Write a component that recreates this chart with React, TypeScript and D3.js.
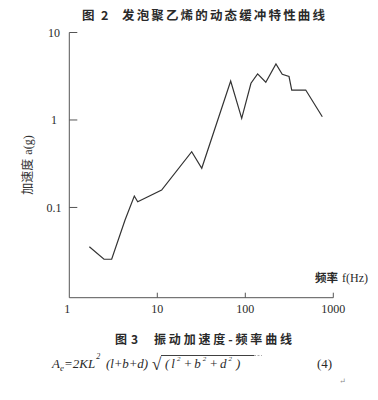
import React from "react";
import * as d3 from "d3";

const freq = [1.69, 2.48, 3.03, 4.3, 5.48, 5.99, 11.2, 24.6, 32, 68.2, 91, 116, 138, 171, 223, 263, 314, 337, 486, 750];
const accel = [0.0356, 0.0256, 0.0256, 0.072, 0.135, 0.116, 0.158, 0.434, 0.281, 2.79, 1.045, 2.63, 3.36, 2.7, 4.37, 3.33, 3.14, 2.2, 2.2, 1.09];
const xTicks = [1, 10, 100, 1000];
const xTickLabels = ["1", "10", "100", "1000"];
const yTicks = [10, 1, 0.1];
const yTickLabels = ["10", "1", "0.1"];

const W = 378;
const H = 400;
const serif = "'Liberation Serif', 'DejaVu Serif', serif";
const cjk = "'Noto Sans CJK SC', sans-serif";

export default function App() {
  const x = d3.scaleLog().domain([1, 1000]).range([69.3, 333.3]);
  const y = d3.scaleLog().domain([0.0093, 10]).range([297.7, 32.5]);
  const pts = freq.map((f, i) => [f, accel[i]] as [number, number]);
  const line = d3
    .line<[number, number]>()
    .x((d) => x(d[0]))
    .y((d) => y(d[1]));
  const x0 = x(1);
  const x1 = x(1000);
  const yTop = y(10);
  const yBot = y.range()[0];
  const ink = "#2a2a2a";

  return (
    <svg
      width={W}
      height={H}
      style={{ position: "absolute", left: 0, top: 0, background: "#fff" }}
    >
      <rect x={0} y={0} width={W} height={H} fill="#fff" />
      {/* title */}
      <g fontFamily={cjk} fontWeight={700} fontSize={12.5} fill={ink}>
        <text x={82} y={20}>图</text>
        <text x={101} y={20}>2</text>
        <text x={122} y={20} textLength={203} lengthAdjust="spacing">
          发泡聚乙烯的动态缓冲特性曲线
        </text>
      </g>

      {/* axes */}
      <line x1={x0} y1={yTop} x2={x0} y2={yBot} stroke="#555" strokeWidth={1} />
      <line x1={x0} y1={yBot} x2={x1} y2={yBot} stroke="#555" strokeWidth={1} />
      {yTicks.map((t, i) => (
        <g key={"yt" + i}>
          <line x1={x0} x2={x0 + 8} y1={y(t)} y2={y(t)} stroke="#555" strokeWidth={1} />
          <text
            x={54}
            y={y(t)}
            dy="0.35em"
            textAnchor="middle"
            fontFamily={serif}
            fontSize={12}
            fill={ink}
          >
            {yTickLabels[i]}
          </text>
        </g>
      ))}
      {xTicks.map((t, i) => (
        <g key={"xt" + i}>
          {i > 0 && (
            <line x1={x(t)} x2={x(t)} y1={yBot} y2={yBot - 5} stroke="#555" strokeWidth={1} />
          )}
          <text
            x={x(t) - (i === 0 ? 2 : 0)}
            y={312.5}
            textAnchor="middle"
            fontFamily={serif}
            fontSize={12}
            fill={ink}
          >
            {xTickLabels[i]}
          </text>
        </g>
      ))}

      {/* curve */}
      <path d={line(pts) || ""} fill="none" stroke="#333" strokeWidth={1.2} strokeLinejoin="miter" />

      {/* axis labels */}
      <text x={315} y={282} fontFamily={cjk} fontWeight={600} fontSize={11.5} fill={ink}>
        频率
        <tspan fontFamily={serif} fontWeight={400} fontSize={12} dx={4}>
          f(Hz)
        </tspan>
      </text>
      <text
        transform="translate(32,165) rotate(-90)"
        textAnchor="middle"
        fontFamily={cjk}
        fontWeight={400}
        fontSize={12}
        fill="#333"
      >
        加速度
        <tspan fontFamily={serif} dx={4}>
          a(g)
        </tspan>
      </text>

      {/* caption */}
      <g fontFamily={cjk} fontWeight={700} fontSize={12} fill={ink}>
        <text x={115} y={344}>图</text>
        <text x={131} y={344}>3</text>
        <text x={154} y={344} textLength={138} lengthAdjust="spacing">
          振动加速度-频率曲线
        </text>
      </g>

      {/* formula */}
      <g fontFamily={serif} fontStyle="italic" fontSize={13} fill={ink}>
        <text x={52} y={368}>
          A<tspan fontSize={9} dy={3}>e</tspan>
          <tspan dy={-3}>=2KL</tspan>
          <tspan fontSize={8} dy={-9} dx={1}>2</tspan>
        </text>
        <text x={106} y={368} textLength={42} lengthAdjust="spacing">(l+b+d)</text>
        <text x={152} y={370} fontSize={17} fontStyle="normal">√</text>
        <line x1={161} x2={254} y1={355.5} y2={355.5} stroke={ink} strokeWidth={0.9} />
        <line x1={254} x2={262} y1={355.5} y2={355.5} stroke="#999" strokeWidth={0.8} strokeDasharray="2 1.5" />
        <text x={165} y={368} letterSpacing={2}>
          (l<tspan fontSize={7} dy={-7}>2</tspan>
          <tspan dy={7} dx={1}>+b</tspan>
          <tspan fontSize={7} dy={-7}>2</tspan>
          <tspan dy={7} dx={1}>+d</tspan>
          <tspan fontSize={7} dy={-7}>2</tspan>
          <tspan dy={7} dx={2}>)</tspan>
        </text>
        <text x={317} y={368} fontStyle="normal">(4)</text>
      </g>
      <text x={339} y={384} fontFamily={serif} fontSize={8} fill="#888">↵</text>
    </svg>
  );
}
